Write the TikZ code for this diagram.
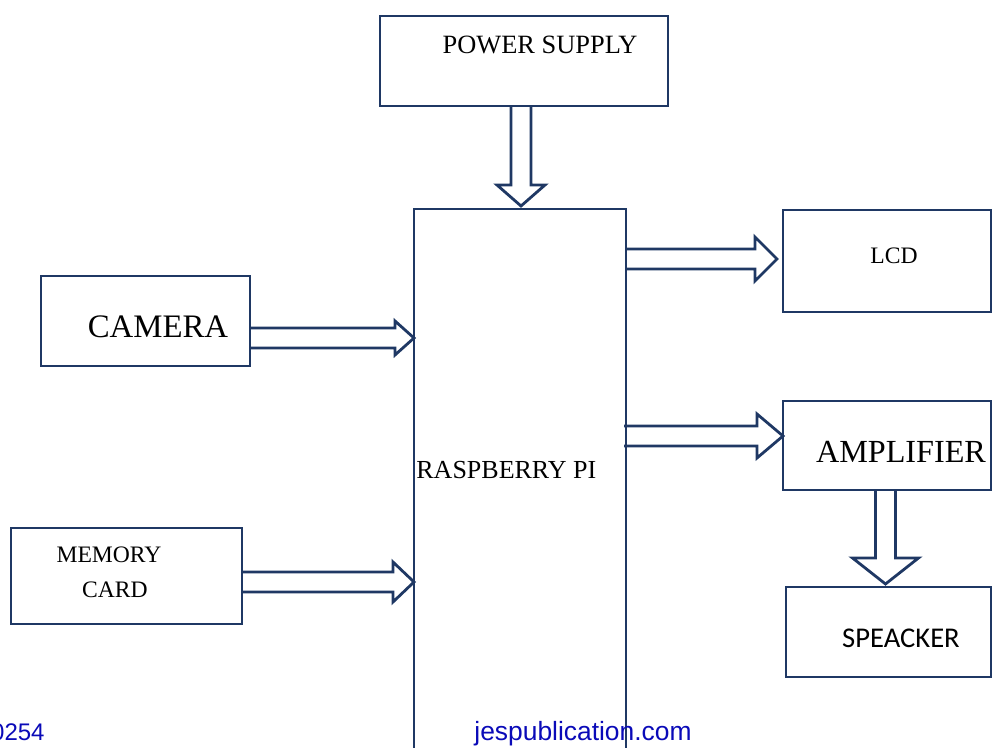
\documentclass[tikz,border=0pt]{standalone}
\usepackage{fontspec}
\setmainfont{Liberation Serif}
\newfontfamily\calibrifont{Carlito}
\newfontfamily\arialfont{Liberation Sans}
\usetikzlibrary{calc,backgrounds}
\definecolor{mylinecolor}{HTML}{1F3864}
\definecolor{myfootcolor}{HTML}{0A0AB8}
\tikzset{
  head half/.store in=\arrheadhalf, head half=11pt,
  head len/.store in=\arrheadlen, head len=11pt,
  blockbox/.style={draw=mylinecolor, line width=1.4pt, rectangle, inner sep=0pt, outer sep=0pt},
  blockarrow/.style={draw=mylinecolor, fill=white, line width=1.4pt, line join=miter,
    to path={($(\tikztostart)!5pt!90:(\tikztotarget)$) -- ($(\tikztotarget)!\arrheadlen!(\tikztostart)!5pt!-90:(\tikztostart)$)
      -- ($(\tikztotarget)!\arrheadlen!(\tikztostart)!\arrheadhalf!-90:(\tikztostart)$) -- (\tikztotarget)
      -- ($(\tikztotarget)!\arrheadlen!(\tikztostart)!\arrheadhalf!90:(\tikztostart)$) -- ($(\tikztotarget)!\arrheadlen!(\tikztostart)!5pt!90:(\tikztostart)$)
      -- ($(\tikztostart)!5pt!-90:(\tikztotarget)$)}},
  foottext/.style={text=myfootcolor, inner sep=0pt, anchor=base}
}

\begin{document}
\begin{tikzpicture}[x=0.5pt, y=-0.5pt]%
\useasboundingbox (0,0) rectangle (992,748);%
% boxes
\node[blockbox, minimum width=144pt, minimum height=45pt] (ps) at (524, 61) {};%
\node[blockbox, minimum width=106pt, minimum height=280.5pt] (rpi) at (520, 489.5) {};%
\node[blockbox, minimum width=104.5pt, minimum height=45pt] (cam) at (145.5, 321) {};%
\node[blockbox, minimum width=115.5pt, minimum height=48pt] (mem) at (126.5, 576) {};%
\node[blockbox, minimum width=104pt, minimum height=51pt] (lcd) at (887, 261) {};%
\node[blockbox, minimum width=104pt, minimum height=44.5pt] (amp) at (887, 445.5) {};%
\node[blockbox, minimum width=102.5pt, minimum height=45pt] (spk) at (888.5, 632) {};%
% texts
\node (pstext) at (540, 45) {\fontsize{13.2pt}{15pt}\selectfont POWER SUPPLY};%
\node[anchor=west, inner sep=0pt] (rpitext) at (416, 470) {\fontsize{13pt}{15pt}\selectfont RASPBERRY PI};%
\node (camtext) at (158, 327) {\fontsize{16.4pt}{19pt}\selectfont CAMERA};%
\node (memtext) at (109, 555) {\fontsize{11.8pt}{14pt}\selectfont MEMORY};%
\node (cardtext) at (115, 590) {\fontsize{11.8pt}{14pt}\selectfont CARD};%
\node (lcdtext) at (894, 256) {\fontsize{11.8pt}{14pt}\selectfont LCD};%
\node (amptext) at (901, 452) {\fontsize{16.1pt}{19pt}\selectfont AMPLIFIER};%
\node (spktext) at (901, 638) {\calibrifont\fontsize{14.3pt}{17pt}\selectfont SPEACKER};%
% connectors (under the box outlines)
\coordinate (psout) at ([xshift=-1.5pt]ps.south);%
\coordinate (camout) at ([yshift=-8.5pt]cam.east);%
\coordinate (memout) at ([yshift=-3pt]mem.east);%
\coordinate (lcdin) at ([xshift=-3pt, yshift=1pt]lcd.west);%
\coordinate (ampin) at ([yshift=4.75pt]amp.west);%
\coordinate (ampout) at ([xshift=-1.5pt, yshift=1.5pt]spk.north);%
\begin{scope}[on background layer]
\draw[blockarrow, head half=12pt, head len=10.5pt] (psout) to ([yshift=1.5pt]psout |- rpi.north);%
\draw[blockarrow, head half=8.5pt, head len=9.5pt] (camout) to (camout -| rpi.west);%
\draw[blockarrow, head half=10pt, head len=10.5pt] (memout) to (memout -| rpi.west);%
\draw[blockarrow] (rpi.east |- lcdin) to (lcdin);%
\draw[blockarrow, head len=13pt] ([xshift=-1pt]rpi.east |- ampin) to (ampin);%
\draw[blockarrow, head half=16.5pt, head len=13pt] (ampout |- amp.south) to (ampout);%
\end{scope}
% footer
\node[foottext, anchor=base east] (pagenum) at (45, 741) {\arialfont\fontsize{12pt}{14pt}\selectfont 0254};%
\node[foottext] (site) at (583, 741) {\arialfont\fontsize{13.2pt}{15pt}\selectfont jespublication.com};%
\end{tikzpicture}
\end{document}
